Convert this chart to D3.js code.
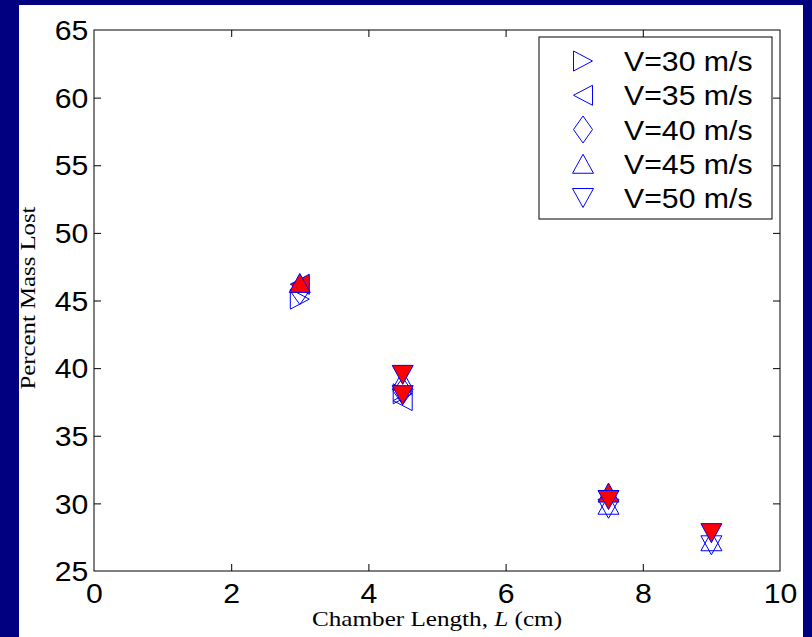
<!DOCTYPE html>
<html>
<head>
<meta charset="utf-8">
<script src="https://cdn.jsdelivr.net/npm/d3@7"></script>
<style>
  html, body { margin: 0; padding: 0; background: #000080; }
  svg { display: block; }
</style>
</head>
<body>
<script>
// ---------- data ----------
const lengths = [3, 4.5, 7.5, 9];
const seriesNames = ["V=30 m/s", "V=35 m/s", "V=40 m/s", "V=45 m/s", "V=50 m/s"];
const seriesShapes = ["right", "left", "diamond", "up", "down"];
// open (blue outline) markers
const v30 = [45.1, 38.1, null, null];
const v35 = [null, 37.6, null, null];
const v40 = [45.7, 38.3, null, null];
const v45 = [null, 39.1, 29.9, 27.2];
const v50 = [null, null, 29.6, 26.9];
// filled (red) markers
const v35Filled = [46.2, null, null, null];
const v45Filled = [46.3, null, 30.8, null];
const v50Filled = [null, 39.5, 30.25, 27.8];
const v50Filled2 = [null, 38.0, null, null];
const xTicks = [0, 2, 4, 6, 8, 10];
const yTicks = [25, 30, 35, 40, 45, 50, 55, 60, 65];

// ---------- layout ----------
const W = 812, H = 637;
const pLeft = 94, pRight = 780, pTop = 30, pBottom = 571;
const svg = d3.select("body").append("svg").attr("width", W).attr("height", H);
svg.append("rect").attr("x", 0).attr("y", 0).attr("width", W).attr("height", H).attr("fill", "#000080");
svg.append("rect").attr("x", 19).attr("y", 5).attr("width", 784).attr("height", 632).attr("fill", "#ffffff");

const x = d3.scaleLinear().domain([0, 10]).range([pLeft, pRight]);
const y = d3.scaleLinear().domain([25, 65]).range([pBottom, pTop]);

const tickFont = "'Liberation Sans', Arial, Helvetica, sans-serif";
const SX = 1.12;

// axes
const gB = svg.append("g").attr("transform", `translate(0,${pBottom})`)
  .call(d3.axisBottom(x).tickValues(xTicks).tickSize(-7).tickPadding(13).tickFormat(d3.format("d")));
const gL = svg.append("g").attr("transform", `translate(${pLeft},0)`)
  .call(d3.axisLeft(y).tickValues(yTicks).tickSize(-7).tickPadding(5).tickFormat(d3.format("d")));
const gT = svg.append("g").attr("transform", `translate(0,${pTop})`)
  .call(d3.axisTop(x).tickValues(xTicks).tickSize(-7).tickFormat(""));
const gR = svg.append("g").attr("transform", `translate(${pRight},0)`)
  .call(d3.axisRight(y).tickValues(yTicks).tickSize(-7).tickFormat(""));
[gB, gL, gT, gR].forEach(g => {
  g.select(".domain").remove();
  g.selectAll("line").attr("stroke", "#000").attr("stroke-width", 1);
  g.selectAll("text").attr("fill", "#000").style("font-family", tickFont).style("font-size", "27px")
    .attr("transform", `scale(${SX},1)`);
});
gL.selectAll("text").attr("dy", "0.36em");
// remove end ticks that coincide with the box
gB.selectAll(".tick").filter(d => d === 0 || d === 10).select("line").remove();
gT.selectAll(".tick").filter(d => d === 0 || d === 10).select("line").remove();
gL.selectAll(".tick").filter(d => d === 25 || d === 65).select("line").remove();
gR.selectAll(".tick").filter(d => d === 25 || d === 65).select("line").remove();

svg.append("rect").attr("x", pLeft).attr("y", pTop).attr("width", pRight - pLeft).attr("height", pBottom - pTop)
  .attr("fill", "none").attr("stroke", "#000").attr("stroke-width", 1);

// ---------- markers ----------
function shapePath(kind) {
  switch (kind) {
    case "right": return "M-9.5,-10L9.5,0L-9.5,10Z";
    case "left": return "M9.5,-10L-9.5,0L9.5,10Z";
    case "up": return "M0,-9.5L10.5,9.5L-10.5,9.5Z";
    case "down": return "M0,9.5L10.5,-9.5L-10.5,-9.5Z";
    case "diamond": return "M0,-13.5L9.5,0L0,13.5L-9.5,0Z";
  }
}
function drawSeries(vals, kind, filled) {
  const pts = lengths.map((L, i) => ({ L, v: vals[i] })).filter(d => d.v !== null);
  svg.append("g").selectAll("path").data(pts).join("path")
    .attr("d", shapePath(kind))
    .attr("transform", d => `translate(${x(d.L)},${y(d.v)})`)
    .attr("fill", filled ? "#ff0000" : "none")
    .attr("stroke", "#0000ff").attr("stroke-width", 1);
}
drawSeries(v30, "right", false);
drawSeries(v35, "left", false);
drawSeries(v40, "diamond", false);
drawSeries(v45, "up", false);
drawSeries(v50, "down", false);
drawSeries(v35Filled, "left", true);
drawSeries(v45Filled, "up", true);
drawSeries(v50Filled2, "down", true);
drawSeries(v50Filled, "down", true);

// ---------- legend ----------
const lg = svg.append("g");
lg.append("rect").attr("x", 539).attr("y", 37).attr("width", 233).attr("height", 182)
  .attr("fill", "#fff").attr("stroke", "#000").attr("stroke-width", 1);
const rowY = d3.scalePoint().domain(seriesNames).range([61, 198]);
seriesNames.forEach((name, i) => {
  lg.append("path").attr("d", shapePath(seriesShapes[i]))
    .attr("transform", `translate(583,${rowY(name)})`)
    .attr("fill", "none").attr("stroke", "#0000ff").attr("stroke-width", 1);
  lg.append("text").attr("transform", `translate(624,${rowY(name) + 10}) scale(${SX},1)`)
    .style("font-family", tickFont).style("font-size", "27px").attr("fill", "#000")
    .text(name);
});

// ---------- axis titles ----------
const serif = "'Liberation Serif', 'Times New Roman', serif";
const xl = svg.append("text").attr("x", 437).attr("y", 626).attr("text-anchor", "middle")
  .style("font-family", serif).style("font-size", "22px").attr("fill", "#000")
  .attr("textLength", 250).attr("lengthAdjust", "spacingAndGlyphs");
xl.append("tspan").text("Chamber Length, ");
xl.append("tspan").style("font-style", "italic").text("L");
xl.append("tspan").text(" (cm)");

svg.append("text").attr("transform", "translate(35,298) rotate(-90)").attr("text-anchor", "middle")
  .style("font-family", serif).style("font-size", "22px").attr("fill", "#000")
  .attr("textLength", 183).attr("lengthAdjust", "spacingAndGlyphs")
  .text("Percent Mass Lost");
</script>
</body>
</html>
